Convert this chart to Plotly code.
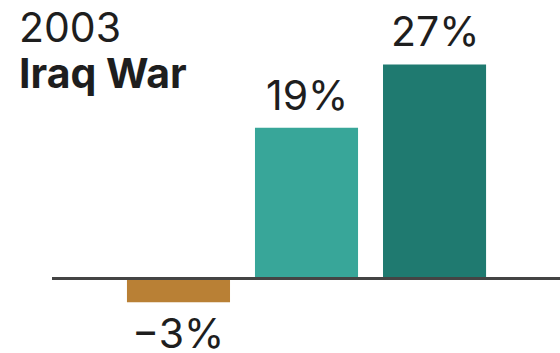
import plotly.graph_objects as go

# Chart data
categories = ["A", "B", "C"]
values = [-3, 19, 27]
bar_colors = ["#B98035", "#38A699", "#1F7A70"]
title_year = "2003"
title_event = "Iraq War"

FONT = "Inter, Liberation Sans, Arial, sans-serif"
TEXT_COLOR = "#1e1e1e"

fig = go.Figure(
    go.Bar(
        x=list(range(len(categories))),
        y=values,
        marker=dict(color=bar_colors, line=dict(width=0)),
        width=0.805,
        hoverinfo="skip",
    )
)

# Value labels above positive bars, below negative ones
for i, v in enumerate(values):
    label = f"{v}%".replace("-", "\u2212")
    fig.add_annotation(
        x=i, y=v, xref="x", yref="y",
        text=label, showarrow=False,
        yanchor="bottom" if v >= 0 else "top",
        yshift=6 if v >= 0 else -4,
        font=dict(family=FONT, size=41, color=TEXT_COLOR),
    )

# Title block in the top-left corner
fig.add_annotation(
    x=-35 / 508, y=1.0, xref="paper", yref="paper",
    xanchor="left", yanchor="top", yshift=0,
    text=title_year, showarrow=False,
    font=dict(family=FONT, size=41, color=TEXT_COLOR),
)
fig.add_annotation(
    x=-35 / 508, y=1.0, xref="paper", yref="paper",
    xanchor="left", yanchor="top", yshift=-46,
    text=f"<b>{title_event}</b>", showarrow=False,
    font=dict(family=FONT, size=41, color=TEXT_COLOR),
)

# Zero baseline drawn over the bars
fig.add_shape(
    type="line", xref="paper", yref="y",
    x0=0, x1=1, y0=0, y1=0,
    line=dict(color="#444444", width=3),
    layer="above",
)

fig.update_layout(
    width=560, height=353,
    margin=dict(l=52, r=0, t=0, b=0),
    paper_bgcolor="white", plot_bgcolor="white",
    showlegend=False,
    xaxis=dict(range=[-0.988, 2.98], visible=False, fixedrange=True),
    yaxis=dict(range=[-9.39, 35.12], visible=False, fixedrange=True),
)

fig.write_html("out.html")
